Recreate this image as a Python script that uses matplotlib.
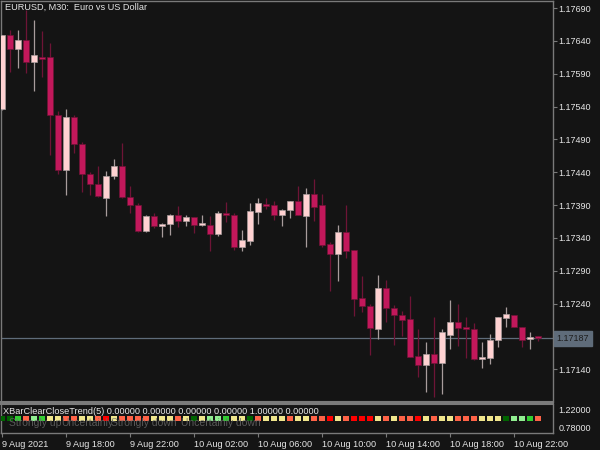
import numpy as np
import matplotlib.pyplot as plt
from matplotlib.patches import Rectangle

# EURUSD M30 candles
opens = [1.17536, 1.17649, 1.17628, 1.17641, 1.17608, 1.17615, 1.17615, 1.17527, 1.17443, 1.17524,
         1.17483, 1.17437, 1.17422, 1.17401, 1.17434, 1.17450, 1.17402, 1.17390, 1.17351, 1.17373,
         1.17358, 1.17361, 1.17375, 1.17366, 1.17372, 1.17360, 1.17360, 1.17346, 1.17378, 1.17375,
         1.17326, 1.17335, 1.17380, 1.17392, 1.17390, 1.17375, 1.17383, 1.17396, 1.17373, 1.17407,
         1.17390, 1.17331, 1.17316, 1.17349, 1.17322, 1.17249, 1.17236, 1.17201, 1.17264, 1.17233,
         1.17223, 1.17217, 1.17160, 1.17147, 1.17163, 1.17150, 1.17192, 1.17212, 1.17204, 1.17201,
         1.17156, 1.17157, 1.17185, 1.17218, 1.17223, 1.17204, 1.17186, 1.17191]
closes = [1.17649, 1.17628, 1.17641, 1.17608, 1.17618, 1.17612, 1.17527, 1.17443, 1.17524, 1.17483,
          1.17437, 1.17422, 1.17404, 1.17434, 1.17450, 1.17402, 1.17390, 1.17351, 1.17373, 1.17358,
          1.17361, 1.17375, 1.17366, 1.17372, 1.17360, 1.17363, 1.17346, 1.17378, 1.17375, 1.17326,
          1.17337, 1.17381, 1.17393, 1.17389, 1.17375, 1.17383, 1.17396, 1.17375, 1.17407, 1.17387,
          1.17329, 1.17316, 1.17349, 1.17320, 1.17247, 1.17236, 1.17203, 1.17264, 1.17233, 1.17223,
          1.17215, 1.17159, 1.17147, 1.17163, 1.17150, 1.17197, 1.17212, 1.17203, 1.17201, 1.17156,
          1.17159, 1.17185, 1.17220, 1.17224, 1.17204, 1.17185, 1.17189, 1.17187]
highs = [1.17649, 1.17657, 1.17657, 1.17687, 1.17672, 1.17655, 1.17637, 1.17533, 1.17536, 1.17527,
         1.17486, 1.17440, 1.17450, 1.17442, 1.17460, 1.17485, 1.17419, 1.17393, 1.17375, 1.17378,
         1.17363, 1.17376, 1.17389, 1.17375, 1.17372, 1.17375, 1.17373, 1.17381, 1.17395, 1.17378,
         1.17352, 1.17393, 1.17401, 1.17401, 1.17396, 1.17384, 1.17396, 1.17419, 1.17416, 1.17430,
         1.17407, 1.17334, 1.17360, 1.17390, 1.17322, 1.17282, 1.17239, 1.17284, 1.17276, 1.17238,
         1.17229, 1.17252, 1.17201, 1.17182, 1.17220, 1.17201, 1.17246, 1.17239, 1.17220, 1.17211,
         1.17182, 1.17194, 1.17220, 1.17235, 1.17223, 1.17204, 1.17197, 1.17191]
lows = [1.17535, 1.17593, 1.17599, 1.17591, 1.17564, 1.17585, 1.17466, 1.17437, 1.17405, 1.17469,
        1.17410, 1.17405, 1.17402, 1.17373, 1.17430, 1.17401, 1.17378, 1.17349, 1.17349, 1.17355,
        1.17341, 1.17345, 1.17357, 1.17358, 1.17348, 1.17358, 1.17320, 1.17343, 1.17364, 1.17322,
        1.17320, 1.17329, 1.17361, 1.17384, 1.17367, 1.17358, 1.17370, 1.17375, 1.17326, 1.17366,
        1.17326, 1.17259, 1.17274, 1.17309, 1.17221, 1.17227, 1.17162, 1.17186, 1.17212, 1.17177,
        1.17191, 1.17159, 1.17128, 1.17106, 1.17098, 1.17103, 1.17171, 1.17176, 1.17157, 1.17154,
        1.17142, 1.17148, 1.17174, 1.17204, 1.17204, 1.17174, 1.17171, 1.17183]
current_price = 1.17187

price_ticks = [1.17690, 1.17640, 1.17590, 1.17540, 1.17490, 1.17440, 1.17390, 1.17340, 1.17290, 1.17240, 1.17140]
time_ticks = [0, 8, 16, 24, 32, 40, 48, 56, 64]
time_labels = ['9 Aug 2021', '9 Aug 18:00', '9 Aug 22:00', '10 Aug 02:00', '10 Aug 06:00',
               '10 Aug 10:00', '10 Aug 14:00', '10 Aug 18:00', '10 Aug 22:00']

# XBarClearCloseTrend state per bar
trend_colors = ['darkgreen', 'darkgreen', 'limegreen', 'tomato', 'lightgreen', 'limegreen', 'khaki', 'khaki',
                'tomato', 'tomato', 'khaki', 'khaki', 'tomato', 'red', 'khaki', 'tomato',
                'tomato', 'tomato', 'tomato', 'khaki', 'khaki', 'khaki', 'tomato', 'khaki',
                'darkgreen', 'khaki', 'lightgreen', 'lightgreen', 'limegreen', 'khaki', 'khaki', 'darkgreen',
                'tomato', 'khaki', 'khaki', 'khaki', 'tomato', 'khaki',
                'khaki', 'tomato', 'tomato', 'red', 'khaki', 'tomato', 'red', 'red', 'red', 'khaki',
                'tomato', 'khaki', 'tomato', 'tomato', 'red', 'khaki', 'tomato', 'khaki', 'khaki', 'tomato',
                'tomato', 'tomato', 'khaki', 'khaki', 'khaki', 'darkgreen', 'lightgreen', 'lightgreen',
                'limegreen', 'tomato']
legend_labels = ['Strongly up', 'Uncertainly up', 'Strongly down', 'Uncertainly down']

bg = '#141414'
grid_col = '#7a7a7a'
txt_col = '#e6e6e6'
bull_body, bull_wick = '#ffd2d2', '#a89c9c'
bear_body, bear_wick = '#c2185b', '#6e1436'
plt.rcParams['font.family'] = ['Liberation Sans', 'DejaVu Sans']

fig = plt.figure(figsize=(6, 4.5), dpi=100, facecolor=bg)
W, H = 600.0, 450.0
ax = fig.add_axes([1 / W, 1 - 402 / H, 552 / W, 401 / H], facecolor=bg)
axi = fig.add_axes([1 / W, 1 - 433 / H, 552 / W, 29 / H], facecolor=bg)

x0 = -0.125
x1 = x0 + 552 / 8.0
ymax = 1.17690 + 7 / 65700.0
ymin = 1.17690 - 394 / 65700.0

n = len(opens)
for i in range(n):
    o, c, h, l = opens[i], closes[i], highs[i], lows[i]
    up = c >= o
    body = bull_body if up else bear_body
    wick = bull_wick if up else bear_wick
    ax.plot([i, i], [l, h], color=wick, lw=0.9, solid_capstyle='butt', zorder=2)
    lo, hi = min(o, c), max(o, c)
    hgt = max(hi - lo, 0.000022)
    ax.add_patch(Rectangle((i - 0.35, lo), 0.7, hgt, facecolor=body, edgecolor=wick, lw=0.5, zorder=3))

ax.axhline(current_price, color='#5f6c7a', lw=0.9, zorder=1)
ax.set_xlim(x0, x1)
ax.set_ylim(ymin, ymax)
ax.yaxis.tick_right()
ax.set_yticks(price_ticks)
ax.set_yticklabels(['%.5f' % p for p in price_ticks])
ax.tick_params(axis='y', direction='out', length=3, width=0.8, color=grid_col,
               labelcolor=txt_col, labelsize=6.5, pad=1)
ax.set_xticks([])
for s in ax.spines.values():
    s.set_color(grid_col)
    s.set_linewidth(1)
ax.spines['bottom'].set_linewidth(1.5)

ax.text(1.006, current_price, '%.5f' % current_price, transform=ax.get_yaxis_transform(),
        ha='left', va='center', fontsize=6.5, color='#1e1e1e',
        bbox=dict(boxstyle='square,pad=0.3', facecolor='#5f6c7a', edgecolor='#5f6c7a'))
ax.text(4 / 552, 1 - 2 / 401, 'EURUSD, M30:  Euro vs US Dollar', transform=ax.transAxes,
        ha='left', va='top', fontsize=6.6, color=txt_col)

# indicator pane
axi.scatter(range(n), [1.0] * n, marker='s', s=14, c=trend_colors, linewidths=0, zorder=3)
axi.set_xlim(x0, x1)
axi.set_ylim(0.664, 1.336)
axi.yaxis.tick_right()
axi.set_yticks([1.22, 0.78])
axi.set_yticklabels(['1.22000', '0.78000'])
axi.tick_params(axis='y', length=0, labelcolor=txt_col, labelsize=6.5, pad=4)
axi.set_xticks(time_ticks)
axi.set_xticklabels(time_labels, ha='left')
axi.tick_params(axis='x', direction='out', length=3, width=0.8, color=grid_col,
                labelcolor=txt_col, labelsize=6.6, pad=2)
for s in axi.spines.values():
    s.set_color(grid_col)
    s.set_linewidth(1)
axi.spines['top'].set_linewidth(1.5)

axi.text(2 / 552, 0.9, 'XBarClearCloseTrend(5) 0.00000 0.00000 0.00000 0.00000 1.00000 0.00000',
         transform=axi.transAxes, ha='left', va='top', fontsize=6.6, color=txt_col)
# the four state labels are drawn on top of each other, as in the terminal
label_x = [8, 60, 110, 180]
for lx, lbl in zip(label_x, legend_labels):
    txt = lbl if lbl != 'Uncertainly up' else 'Uncertainly'
    axi.text(lx / 552, 0.35, txt, transform=axi.transAxes, ha='left', va='center',
             fontsize=7.5, color='#6a6a6a', alpha=0.8, zorder=4)

fig.savefig('out.png', dpi=100, facecolor=bg)
